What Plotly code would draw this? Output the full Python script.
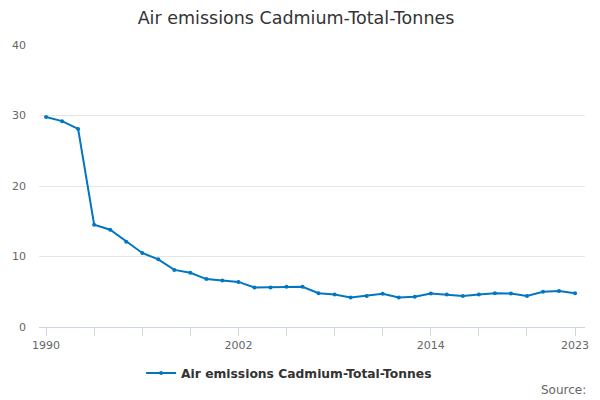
import plotly.graph_objects as go

years = list(range(1990, 2024))
tonnes = [29.8, 29.2, 28.1, 14.5, 13.8, 12.1, 10.5, 9.6, 8.1, 7.7,
          6.8, 6.6, 6.4, 5.6, 5.6, 5.7, 5.7, 4.8, 4.6, 4.2,
          4.4, 4.7, 4.2, 4.3, 4.75, 4.6, 4.4, 4.6, 4.8, 4.75,
          4.4, 5.0, 5.1, 4.8]
name = 'Air emissions Cadmium-Total-Tonnes'

tick_years = list(range(1990, 2024, 3))
tick_labels = [str(y) if y in (1990, 2002, 2014, 2023) else '' for y in tick_years]

fig = go.Figure()

fig.add_trace(go.Scatter(x=years, y=tonnes, name=name,
                         mode='lines+markers',
                         line=dict(color='#0077c0', width=2),
                         marker=dict(size=4, color='#0077c0')))

# page has an 8px body margin, so the figure is a bit smaller than the window
fig.update_layout(
    width=592, height=392,
    title={'text': name, 'x': 0.4865, 'y': 0.9745, 'yref': 'container',
           'xanchor': 'center', 'yanchor': 'middle',
           'font': dict(size=17.5, color='#333333')},
    font=dict(family="DejaVu Sans", size=11, color='#666666'),
    plot_bgcolor='white', paper_bgcolor='white',
    margin=dict(l=31, r=15, t=37, b=73, autoexpand=False),
    showlegend=True,
    legend=dict(x=0.187, y=-0.112, xanchor='left', yanchor='top',
                orientation='h', itemwidth=30,
                font=dict(size=12.3, color='#333333', weight='bold')),
    annotations=[dict(text='Source:', x=1.006, y=-0.223, xref='paper', yref='paper',
                      xanchor='right', yanchor='middle', showarrow=False,
                      font=dict(size=12, color='#666666'))],
)

fig.update_xaxes(range=[1989.56, 2023.62], tickvals=tick_years, ticktext=tick_labels,
                 showgrid=False, showline=True, linecolor='#ccd6eb', linewidth=1,
                 ticks='outside', ticklen=8, tickcolor='#ccd6eb', zeroline=False,
                 automargin=False)
fig.update_yaxes(range=[0, 40], dtick=10, showgrid=True, gridcolor='#e6e6e6',
                 zeroline=False, ticks='', ticklabelstandoff=12, automargin=False)

fig.write_html("out.html")
